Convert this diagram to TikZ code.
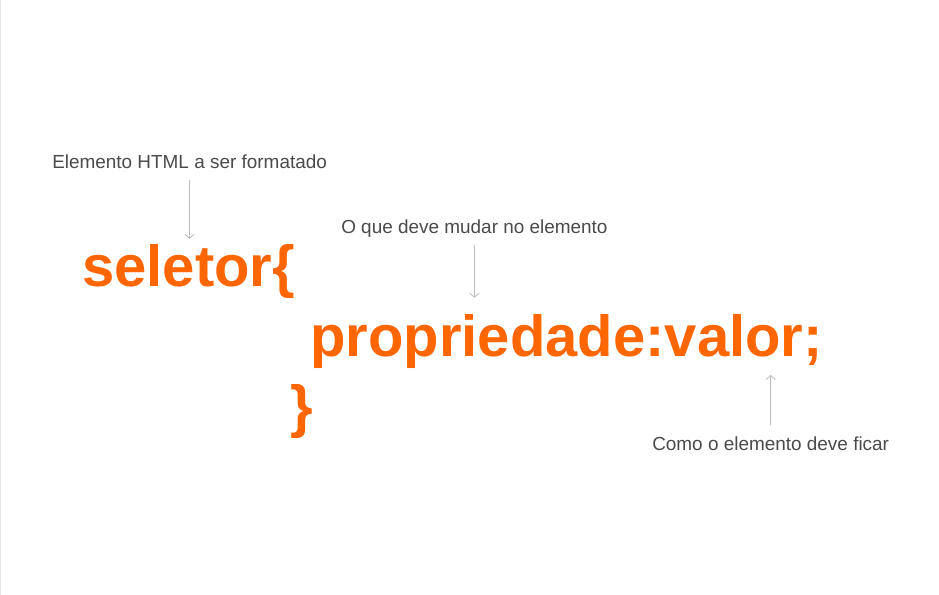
\documentclass[tikz,border=0pt]{standalone}
\usepackage{fontspec}
\setmainfont{Liberation Sans}
\usetikzlibrary{arrows.meta,positioning}
\definecolor{cssorange}{HTML}{FF6600}
\definecolor{notegray}{HTML}{4A4A4A}
\definecolor{pointgray}{HTML}{BBBBBB}
\tikzset{
  codetext/.style={
    font=\fontsize{43.5pt}{46pt}\selectfont\bfseries,
    text=cssorange, inner sep=0pt, anchor=base west
  },
  notetext/.style={
    font=\fontsize{14.2pt}{16pt}\selectfont,
    text=notegray, inner sep=0pt, anchor=base west
  },
  pointer/.style={-{Straight Barb[length=3pt,width=7pt]},draw=pointgray,line width=0.6pt}
}

\begin{document}
\begin{tikzpicture}[x=0.75pt,y=-0.75pt]
  \useasboundingbox[fill=white] (0,0) rectangle (939,595);
  \draw[gray!18,line width=0.75pt] (0.5,0) -- (0.5,595);

  % the rule, line by line
  \node[codetext] (sel) at (82,287) {seletor\{};
  \node[codetext] (prop) at (310,356) {propriedade:valor;};
  \node[codetext] (close) at (290,426) {\}};

  % notes
  \node[notetext] (selnote) at (52,169) {Elemento HTML a ser formatado};
  \node[notetext] (propnote) at (341,234) {O que deve mudar no elemento};
  \node[notetext] (valnote) at (652,450) {Como o elemento deve ficar};

  % pointers from notes to the code
  \draw[pointer,shorten <=8pt,shorten >=4.5pt] (selnote.south) -- (selnote.south |- sel.north);
  \draw[pointer,shorten <=5pt,shorten >=12pt] (propnote.south) -- (propnote.south |- prop.north);
  \draw[pointer,shorten <=8pt,shorten >=5pt] (valnote.north) -- (valnote.north |- prop.south);
\end{tikzpicture}
\end{document}
